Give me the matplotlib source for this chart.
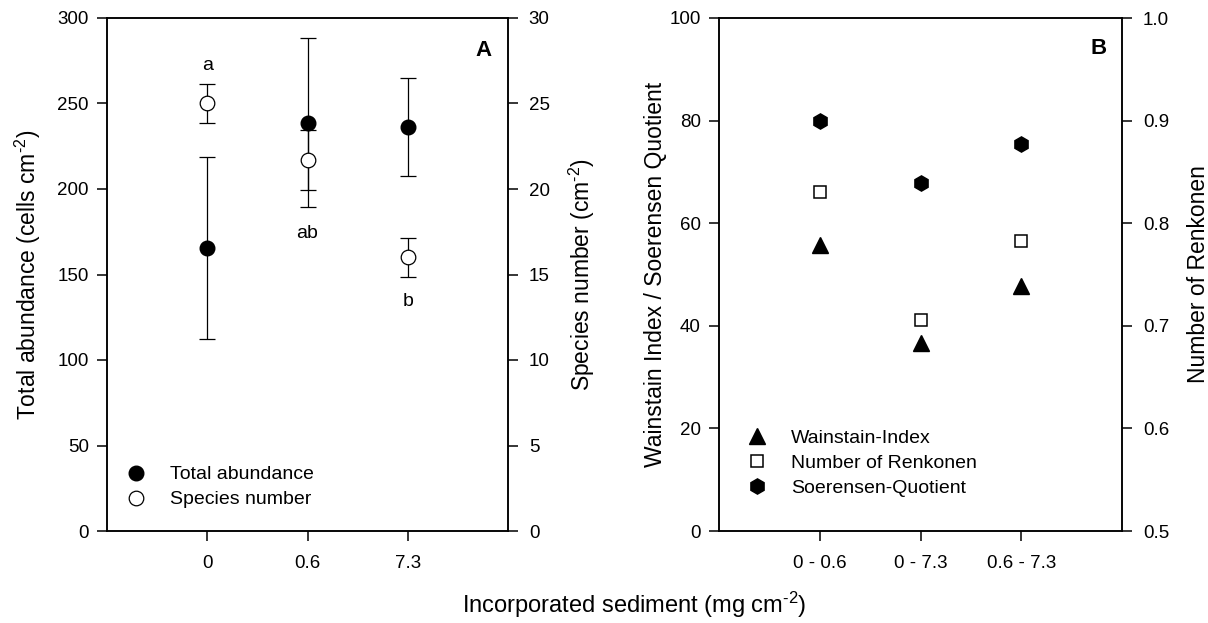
import numpy as np
import matplotlib
matplotlib.use("Agg")
import matplotlib.pyplot as plt
from matplotlib.lines import Line2D

plt.rcParams['font.family'] = ['Liberation Sans', 'DejaVu Sans']
plt.rcParams['mathtext.fontset'] = 'custom'
plt.rcParams['mathtext.rm'] = 'Liberation Sans'
plt.rcParams['mathtext.it'] = 'Liberation Sans:italic'
plt.rcParams['mathtext.bf'] = 'Liberation Sans:bold'

# panel A: abundance and species number per sediment load
sediment = ['0', '0.6', '7.3']
abundance = [165.5, 238.7, 236.3]
abundance_err = [53.0, 49.5, 28.6]
species = [25.0, 21.7, 16.0]
species_err = [1.15, 1.75, 1.13]
letters = ['a', 'ab', 'b']
letter_y = [272, 174, 134]

# panel B: similarity indices per pair
pairs = ['0 - 0.6', '0 - 7.3', '0.6 - 7.3']
wainstain = [55.7, 36.7, 47.8]
renkonen = [0.830, 0.706, 0.783]
soerensen = [80.0, 67.8, 75.5]

TICK = 13.5
LAB = 16.5
LEG = 14
CM2 = 'cm$^{\\text{-2}}$'

fig = plt.figure(figsize=(12.08, 6.23), dpi=100)
axA = fig.add_axes([107/1208, 92/623, 401/1208, 513/623])
axB = fig.add_axes([719/1208, 92/623, 403/1208, 513/623])

def style(ax, pad=6):
    for s in ax.spines.values():
        s.set_linewidth(1.1)
    ax.tick_params(direction='out', length=7, width=1.1, labelsize=TICK, pad=pad)
    ax.tick_params(axis='x', pad=10)

x = np.arange(3)

# --- A ---
axA.errorbar(x, abundance, yerr=abundance_err, fmt='o', color='black',
             ms=10.5, mfc='black', mec='black', elinewidth=0.9,
             capsize=6, capthick=0.9)
axA.set_xlim(-1, 3)
axA.set_ylim(0, 300)
axA.set_xticks(x)
axA.set_xticklabels(sediment)
axA.set_yticks(range(0, 301, 50))
axA.set_ylabel('Total abundance (cells ' + CM2 + ')', fontsize=LAB)
axA.yaxis.set_label_coords(-0.16, 0.5)
axA.tick_params(top=False, right=False)
style(axA)

axA2 = axA.twinx()
axA2.errorbar(x, species, yerr=species_err, fmt='o', color='black',
              ms=10.5, mfc='white', mec='black', mew=0.9, elinewidth=0.9,
              capsize=6, capthick=0.9)
axA2.set_ylim(0, 30)
axA2.set_yticks(range(0, 31, 5))
axA2.set_ylabel('Species number (' + CM2 + ')', fontsize=LAB)
axA2.yaxis.set_label_coords(1.147, 0.5)
style(axA2, pad=8)

for xi, t, ty in zip(x, letters, letter_y):
    axA.text(xi, ty, t, ha='center', va='center', fontsize=LEG)
axA.text(0.938, 0.9376, 'A', transform=axA.transAxes, ha='center', va='center',
         fontsize=16, fontweight='bold')

legA = [Line2D([], [], ls='none', marker='o', ms=10.5, mfc='black', mec='black'),
        Line2D([], [], ls='none', marker='o', ms=10.5, mfc='white', mec='black', mew=0.9)]
axA2.legend(legA, ['Total abundance', 'Species number'], loc='lower left',
            bbox_to_anchor=(0.0165, 0.029), borderaxespad=0, frameon=False,
            fontsize=LEG, handletextpad=1.0, labelspacing=0.38, handlelength=1.5)

# --- B ---
axB.plot(x, wainstain, '^', color='black', ms=11.5, label='Wainstain-Index')
axB.plot([], [], 's', mfc='white', mec='black', mew=1.1, ms=9,
         label='Number of Renkonen')
axB.plot(x, soerensen, 'h', color='black', ms=11, label='Soerensen-Quotient')
axB.set_xlim(-1, 3)
axB.set_ylim(0, 100)
axB.set_xticks(x)
axB.set_xticklabels(pairs)
axB.set_yticks(range(0, 101, 20))
axB.set_ylabel('Wainstain Index / Soerensen Quotient', fontsize=LAB)
axB.yaxis.set_label_coords(-0.128, 0.5)
axB.tick_params(top=False, right=False)
style(axB)

axB2 = axB.twinx()
axB2.plot(x, renkonen, 's', mfc='white', mec='black', mew=1.1, ms=9)
axB2.set_ylim(0.5, 1.0)
ren_ticks = np.arange(0.5, 1.01, 0.1)
axB2.set_yticks(ren_ticks)
axB2.set_yticklabels(['%.1f' % v for v in ren_ticks])
axB2.set_ylabel('Number of Renkonen', fontsize=LAB)
axB2.yaxis.set_label_coords(1.161, 0.5)
style(axB2, pad=8)

axB.text(0.943, 0.9396, 'B', transform=axB.transAxes, ha='center', va='center',
         fontsize=16, fontweight='bold')
axB.legend(loc='lower left', bbox_to_anchor=(0.039, 0.052), borderaxespad=0,
           frameon=False, fontsize=LEG, handletextpad=1.0, labelspacing=0.38,
           handlelength=1.5)

fig.text(0.525, 0.029, 'Incorporated sediment (mg ' + CM2 + ')', ha='center',
         va='center', fontsize=17)

fig.savefig('out.png', dpi=100)
